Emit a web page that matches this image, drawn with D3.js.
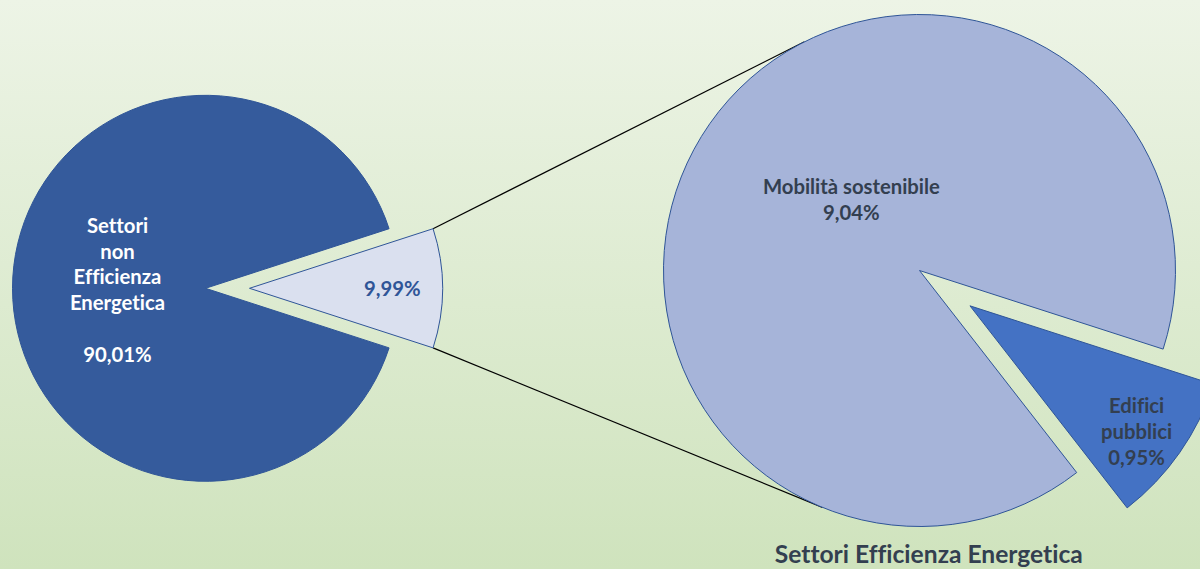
<!DOCTYPE html>
<html>
<head>
<meta charset="utf-8">
<script src="https://cdn.jsdelivr.net/npm/d3@7"></script>
<style>
  html, body { margin: 0; padding: 0; }
  svg { display: block; }
  text {
    font-family: Lato, "Open Sans", sans-serif;
    font-weight: 700;
    font-variant-ligatures: none;
    font-feature-settings: "liga" 0, "clig" 0;
  }
</style>
</head>
<body>
<script>
// ---- data ----
const mainCategories = ["Settori non Efficienza Energetica", "Settori Efficienza Energetica"];
const mainValues = [90.01, 9.99];
const mainLabels = [["Settori", "non", "Efficienza", "Energetica", "", "90,01%"], ["9,99%"]];

const subCategories = ["Mobilità sostenibile", "Edifici pubblici"];
const subValues = [9.04, 0.95];
const subLabels = [["Mobilità sostenibile", "9,04%"], ["Edifici", "pubblici", "0,95%"]];

const subTitle = "Settori Efficienza Energetica";

// ---- layout ----
const W = 1200, H = 569;
const deg = Math.PI / 180;
const mainPie = { cx: 205.5, cy: 288.3, r: 193, explode: 44, focusIndex: 1, focusAngle: 90 * deg };
const subPie = { cx: 919.5, cy: 270.5, r: 256, explode: 61.6, focusIndex: 1, focusAngle: 125 * deg };

const mainColors = ["#355b9c", "#dae0ef"];
const subColors = ["#a6b4d9", "#4472c4"];
const edgeColor = "#2f5597";
const mainTextColors = ["#ffffff", "#2f5597"];
const subTextColor = "#333f50";

// label placement: [radius fraction, angular shift in degrees]
const mainLabelPos = [[0.456, -1.1], [0.74, 0]];
const subLabelPos = [[0.383, 11], [0.815, 2]];
const lineStep = 25.8;
const labelSize = 20.3;

const svg = d3.select("body").append("svg").attr("width", W).attr("height", H);

// background
const defs = svg.append("defs");
const grad = defs.append("linearGradient").attr("id", "bg")
  .attr("x1", 0).attr("y1", 0).attr("x2", 0).attr("y2", 1);
grad.append("stop").attr("offset", "0%").attr("stop-color", "#edf4e6");
grad.append("stop").attr("offset", "100%").attr("stop-color", "#cfe3bd");
svg.append("rect").attr("width", W).attr("height", H).attr("fill", "url(#bg)");

// pie rotated so that the slice at focusIndex is centred on focusAngle
function centeredPie(values, index, midAngle) {
  const total = d3.sum(values);
  const before = d3.sum(values.slice(0, index));
  const start = midAngle - 2 * Math.PI * (before + values[index] / 2) / total;
  return d3.pie().sort(null).value(d => d).startAngle(start).endAngle(start + 2 * Math.PI)(values);
}
const offsetOf = (a, dist) => d3.pointRadial(a, dist);
const midOf = d => (d.startAngle + d.endAngle) / 2;

const mainArcs = centeredPie(mainValues, mainPie.focusIndex, mainPie.focusAngle);
const subArcs = centeredPie(subValues, subPie.focusIndex, subPie.focusAngle);

const mainArc = d3.arc().innerRadius(0).outerRadius(mainPie.r);
const subArc = d3.arc().innerRadius(0).outerRadius(subPie.r);

// ---- connector lines (drawn underneath the secondary pie) ----
const focus = mainArcs[mainPie.focusIndex];
const fOff = offsetOf(midOf(focus), mainPie.explode);
const edgePts = [focus.startAngle, focus.endAngle].map(a => {
  const p = d3.pointRadial(a, mainPie.r);
  return [mainPie.cx + fOff[0] + p[0], mainPie.cy + fOff[1] + p[1]];
}).sort((a, b) => a[1] - b[1]);

function tangentPoints(pt) {
  const px = pt[0] - subPie.cx, py = pt[1] - subPie.cy;
  const phi = Math.atan2(py, px), d = Math.hypot(px, py);
  const alpha = Math.acos(subPie.r / d);
  return [phi + alpha, phi - alpha].map(t => [
    subPie.cx + subPie.r * Math.cos(t),
    subPie.cy + subPie.r * Math.sin(t)
  ]).sort((a, b) => a[1] - b[1]);
}
const upperEnd = tangentPoints(edgePts[0])[0];
const lowerEnd = tangentPoints(edgePts[1])[1];

svg.append("g").selectAll("line")
  .data([[edgePts[0], upperEnd], [edgePts[1], lowerEnd]])
  .join("line")
  .attr("x1", d => d[0][0]).attr("y1", d => d[0][1])
  .attr("x2", d => d[1][0]).attr("y2", d => d[1][1])
  .attr("stroke", "#000").attr("stroke-width", 1.2);

// ---- main pie ----
const gMain = svg.append("g").attr("transform", `translate(${mainPie.cx},${mainPie.cy})`);
gMain.selectAll("path").data(mainArcs).join("path")
  .attr("transform", (d, i) => {
    if (i !== mainPie.focusIndex) return null;
    const o = offsetOf(midOf(d), mainPie.explode);
    return `translate(${o[0]},${o[1]})`;
  })
  .attr("d", mainArc)
  .attr("fill", (d, i) => mainColors[i])
  .attr("stroke", edgeColor).attr("stroke-width", 1);

// ---- secondary pie ----
const gSub = svg.append("g").attr("transform", `translate(${subPie.cx},${subPie.cy})`);
gSub.selectAll("path").data(subArcs).join("path")
  .attr("transform", (d, i) => {
    if (i !== subPie.focusIndex) return null;
    const o = offsetOf(midOf(d), subPie.explode);
    return `translate(${o[0]},${o[1]})`;
  })
  .attr("d", subArc)
  .attr("fill", (d, i) => subColors[i])
  .attr("stroke", edgeColor).attr("stroke-width", 1);

// ---- labels ----
function drawLabel(x, y, lines, color) {
  const t = svg.append("text")
    .attr("text-anchor", "middle")
    .attr("fill", color)
    .attr("font-size", labelSize);
  const top = y - (lines.length - 1) * lineStep / 2;
  lines.forEach((s, i) => {
    t.append("tspan").attr("x", x).attr("y", top + i * lineStep).attr("dy", "0.36em").text(s);
  });
}

mainArcs.forEach((d, i) => {
  const base = i === mainPie.focusIndex ? offsetOf(midOf(d), mainPie.explode) : [0, 0];
  const [frac, shift] = mainLabelPos[i];
  const p = d3.pointRadial(midOf(d) + shift * deg, frac * mainPie.r);
  drawLabel(mainPie.cx + base[0] + p[0], mainPie.cy + base[1] + p[1], mainLabels[i], mainTextColors[i]);
});

subArcs.forEach((d, i) => {
  const base = i === subPie.focusIndex ? offsetOf(midOf(d), subPie.explode) : [0, 0];
  const [frac, shift] = subLabelPos[i];
  const p = d3.pointRadial(midOf(d) + shift * deg, frac * subPie.r);
  drawLabel(subPie.cx + base[0] + p[0], subPie.cy + base[1] + p[1], subLabels[i], subTextColor);
});

// secondary pie caption
svg.append("text")
  .attr("x", subPie.cx + 9.3).attr("y", 554.5).attr("dy", "0.36em")
  .attr("text-anchor", "middle")
  .attr("fill", subTextColor)
  .attr("font-size", 24.6)
  .text(subTitle);
</script>
</body>
</html>
